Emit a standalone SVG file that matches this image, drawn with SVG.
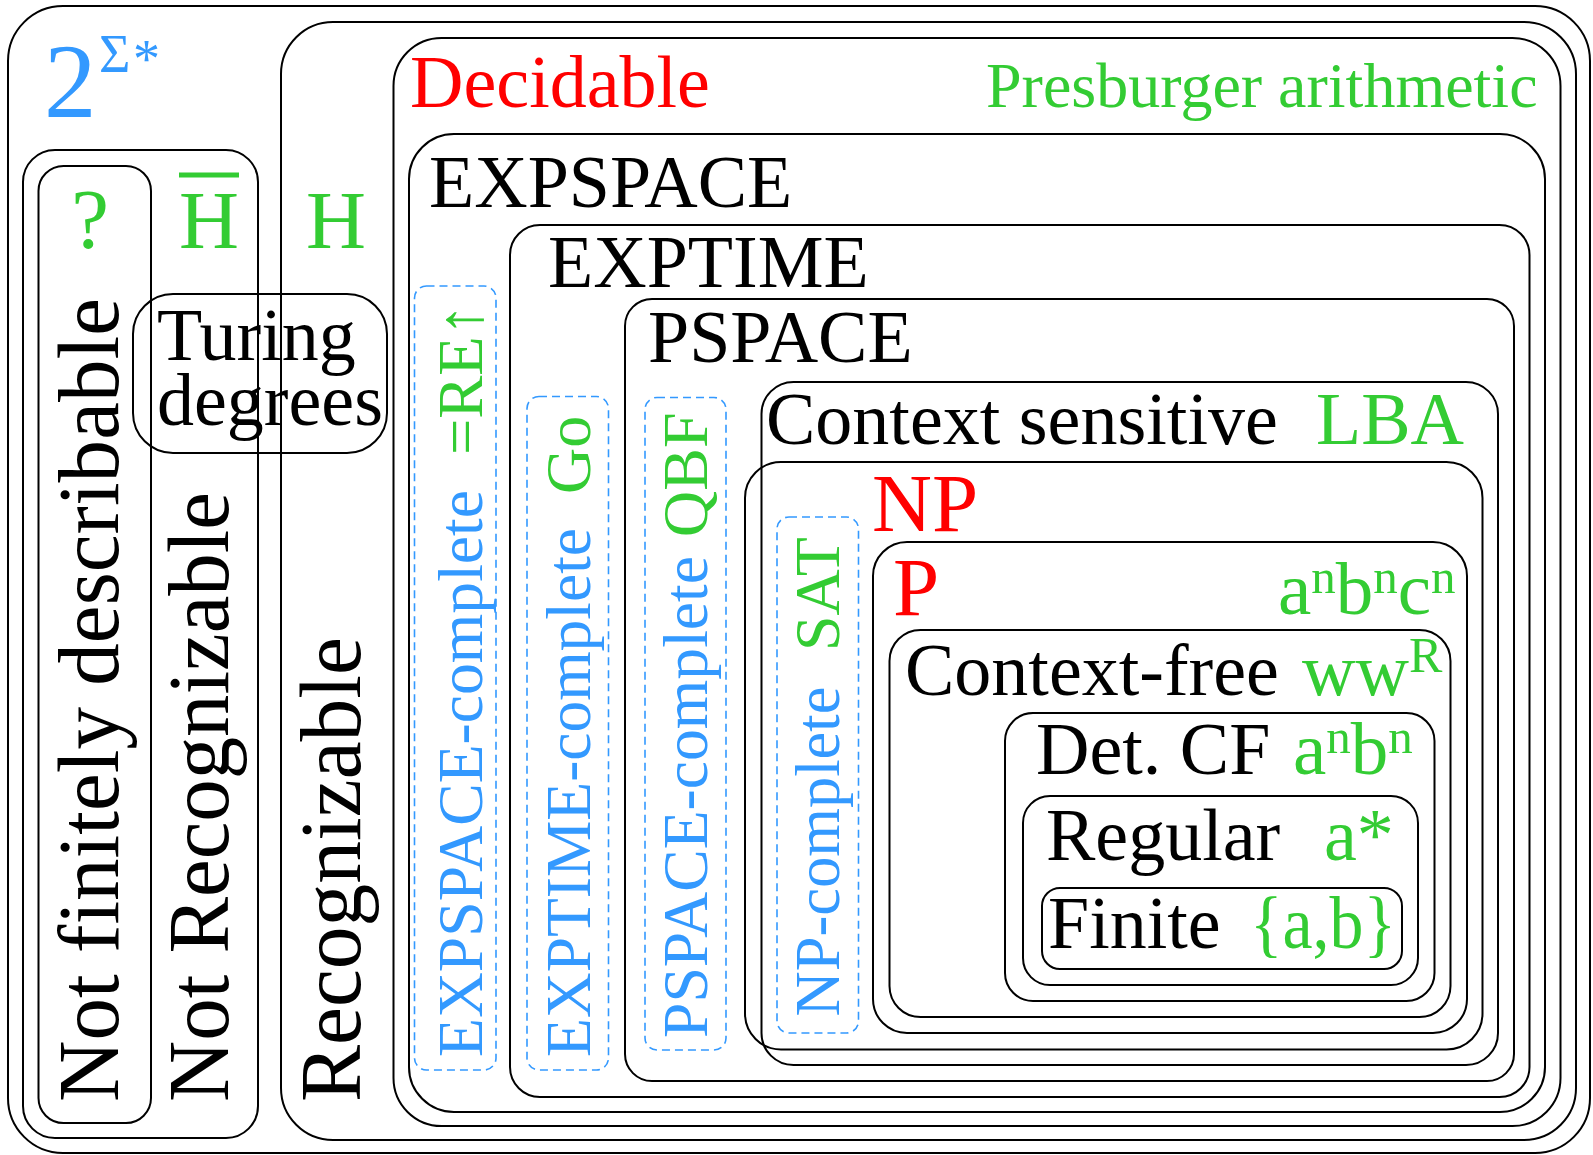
<svg xmlns="http://www.w3.org/2000/svg" width="1593" height="1155" viewBox="0 0 1593 1155">
<style>
  .box { fill: none; stroke: #000; stroke-width: 2; }
  .dash { fill: none; stroke: #3399FF; stroke-width: 1.6; stroke-dasharray: 8 5; }
  text { font-family: "Liberation Serif", "Times New Roman", serif; }
  .blk { fill: #000; font-size: 74px; }
  .red { fill: #FF0000; }
  .grn { fill: #33CC33; }
  .blu { fill: #3399FF; }
  .vt { font-size: 87px; fill: #000; }
  .vd { font-size: 64px; }
</style>
<rect width="1593" height="1155" fill="#fff"/>

<g id="all-languages">
  <rect class="box" x="8" y="6" width="1582" height="1147" rx="55"/>
  <text class="blu" x="44" y="117" font-size="105">2</text>
  <text class="blu" x="99" y="72" font-size="54">Σ</text>
  <text class="blu" x="133" y="77" font-size="54">*</text>
</g>

<g id="not-recognizable">
  <rect class="box" x="23" y="150" width="235" height="988" rx="32"/>
  <line x1="179" y1="175" x2="239" y2="175" stroke="#33CC33" stroke-width="5"/>
  <text class="grn" x="179" y="248" font-size="83">H</text>
  <text class="vt" transform="translate(227.7,1102) rotate(-90)" textLength="610" lengthAdjust="spacingAndGlyphs">Not Recognizable</text>
</g>

<g id="not-finitely-describable">
  <rect class="box" x="38.5" y="166" width="112.5" height="957" rx="25"/>
  <text class="grn" x="90" y="248" font-size="85" text-anchor="middle">?</text>
  <text class="vt" transform="translate(118.3,1102) rotate(-90)" textLength="804" lengthAdjust="spacingAndGlyphs">Not finitely describable</text>
</g>

<g id="recognizable">
  <rect class="box" x="281" y="22" width="1295" height="1118" rx="52"/>
  <text class="grn" x="306" y="248" font-size="83">H</text>
  <text class="vt" transform="translate(360,1102) rotate(-90)" textLength="465" lengthAdjust="spacingAndGlyphs">Recognizable</text>
</g>

<g id="turing-degrees">
  <rect class="box" x="133" y="294" width="254" height="159" rx="40"/>
  <text class="blk" x="157" y="360">Turing</text>
  <text class="blk" x="157" y="425">degrees</text>
</g>

<g id="decidable">
  <rect class="box" x="393.5" y="38" width="1167" height="1088" rx="48"/>
  <text class="red" x="410" y="107" font-size="74">Decidable</text>
  <text class="grn" x="986" y="107" font-size="64">Presburger arithmetic</text>
</g>

<g id="expspace">
  <rect class="box" x="409" y="134" width="1136" height="978" rx="45"/>
  <text class="blk" x="429" y="207">EXPSPACE</text>
</g>

<g id="expspace-complete">
  <rect class="dash" x="414.5" y="286" width="81.5" height="784" rx="12"/>
  <text class="blu vd" transform="translate(482,1057) rotate(-90)" textLength="567" lengthAdjust="spacingAndGlyphs">EXPSPACE-complete</text>
  <text class="grn vd" transform="translate(482,455) rotate(-90)" textLength="151" lengthAdjust="spacingAndGlyphs">=RE↑</text>
</g>

<g id="exptime">
  <rect class="box" x="510" y="225" width="1019.5" height="872" rx="30"/>
  <text class="blk" x="548" y="287">EXPTIME</text>
</g>

<g id="exptime-complete">
  <rect class="dash" x="527" y="396.5" width="81.5" height="673.5" rx="12"/>
  <text class="blu vd" transform="translate(589.7,1057) rotate(-90)" textLength="529" lengthAdjust="spacingAndGlyphs">EXPTIME-complete</text>
  <text class="grn vd" transform="translate(589.7,494) rotate(-90)">Go</text>
</g>

<g id="pspace">
  <rect class="box" x="625" y="299" width="889" height="782" rx="27"/>
  <text class="blk" x="648" y="362">PSPACE</text>
</g>

<g id="pspace-complete">
  <rect class="dash" x="645" y="397.5" width="81" height="652.5" rx="12"/>
  <text class="blu vd" transform="translate(707,1038) rotate(-90)" textLength="482" lengthAdjust="spacingAndGlyphs">PSPACE-complete</text>
  <text class="grn vd" transform="translate(707,537) rotate(-90)">QBF</text>
</g>

<g id="context-sensitive">
  <rect class="box" x="761.5" y="382" width="736.5" height="683" rx="32"/>
  <text class="blk" x="766" y="444">Context sensitive</text>
  <text class="grn" x="1316" y="444" font-size="74">LBA</text>
</g>

<g id="np">
  <rect class="box" x="745" y="462" width="737.5" height="587.5" rx="36"/>
  <text class="red" x="872" y="531" font-size="83">NP</text>
</g>

<g id="np-complete">
  <rect class="dash" x="777" y="517" width="81.5" height="516" rx="12"/>
  <text class="blu vd" transform="translate(839,1016.5) rotate(-90)" textLength="330" lengthAdjust="spacingAndGlyphs">NP-complete</text>
  <text class="grn vd" transform="translate(839,651) rotate(-90)">SAT</text>
</g>

<g id="p">
  <rect class="box" x="873" y="542" width="594" height="491" rx="34"/>
  <text class="red" x="893" y="615" font-size="83">P</text>
  <text class="grn" x="1278" y="614" font-size="75">a<tspan font-size="49" dy="-21">n</tspan><tspan dy="21">b</tspan><tspan font-size="49" dy="-21">n</tspan><tspan dy="21">c</tspan><tspan font-size="49" dy="-21">n</tspan></text>
</g>

<g id="context-free">
  <rect class="box" x="889.5" y="630" width="561" height="387" rx="31"/>
  <text class="blk" x="905" y="695">Context-free</text>
  <text class="grn" x="1302" y="695" font-size="74">ww<tspan font-size="50" dy="-23">R</tspan></text>
</g>

<g id="deterministic-cf">
  <rect class="box" x="1005" y="713" width="429.5" height="288" rx="28"/>
  <text class="blk" x="1036" y="774">Det. CF</text>
  <text class="grn" x="1293" y="774" font-size="75">a<tspan font-size="49" dy="-21">n</tspan><tspan dy="21">b</tspan><tspan font-size="49" dy="-21">n</tspan></text>
</g>

<g id="regular">
  <rect class="box" x="1023" y="796" width="395" height="189" rx="27"/>
  <text class="blk" x="1046" y="860">Regular</text>
  <text class="grn" x="1324" y="860" font-size="74">a*</text>
</g>

<g id="finite">
  <rect class="box" x="1042" y="888" width="360" height="81" rx="18"/>
  <text class="blk" x="1048" y="948">Finite</text>
  <text class="grn" x="1250" y="948" font-size="74" textLength="146" lengthAdjust="spacingAndGlyphs">{a,b}</text>
</g>

<g id="connectors"></g>
</svg>
